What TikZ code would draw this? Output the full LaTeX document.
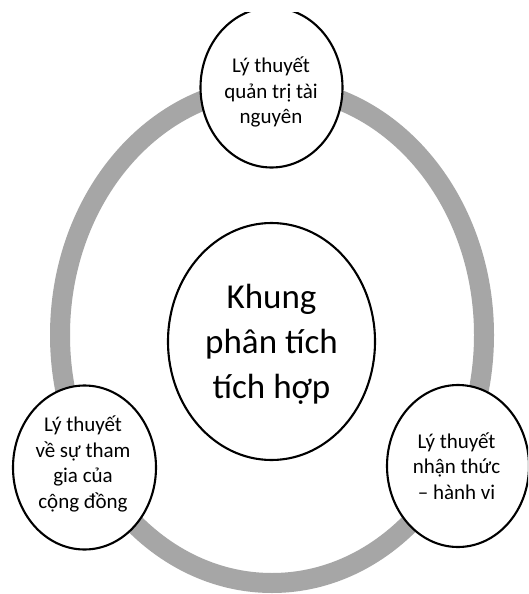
\documentclass[tikz,border=0pt]{standalone}
\usepackage{fontspec}
\setmainfont{Carlito}
\usetikzlibrary{shapes.geometric}
\definecolor{ringgray}{RGB}{166,166,166}
\tikzset{
  ringline/.style={draw=ringgray, line width=20pt},
  bubble/.style={ellipse, draw=black, fill=white, line width=2.1pt, inner sep=0pt},
  smalltext/.style={align=center, inner sep=0pt, font=\fontsize{21}{25.5}\selectfont},
  bigtext/.style={align=center, inner sep=0pt, font=\fontsize{35}{45}\selectfont}
}
\begin{document}
\begin{tikzpicture}[x=1pt, y=-1pt]
\useasboundingbox[fill=white] (0,0) rectangle (528,594);
\clip (0,13) rectangle (528,594);
% ring
\coordinate (ringc) at (272,335);
\draw[ringline] (ringc) ellipse [x radius=212, y radius=248];
% bubbles
\node[bubble, minimum width=142pt, minimum height=160pt] (topc) at (271.5,87.5) {};
\node[bubble, minimum width=207pt, minimum height=237pt] (midc) at (271.5,341.5) {};
\node[bubble, minimum width=143pt, minimum height=164pt] (leftc) at (84.5,467.5) {};
\node[bubble, minimum width=142pt, minimum height=162pt] (rightc) at (458,466) {};
% texts
\node[smalltext] (toptxt) at (271,92) {Lý thuyết\\quản trị tài\\nguyên};
\node[bigtext] (midtxt) at (271.5,344) {Khung\\phân tích\\tích hợp};
\node[smalltext] (lefttxt) at (83,464) {Lý thuyết\\về sự tham\\gia của\\cộng đồng};
\node[smalltext] (righttxt) at (456.5,466) {Lý thuyết\\nhận thức\\– hành vi};
\end{tikzpicture}
\end{document}
